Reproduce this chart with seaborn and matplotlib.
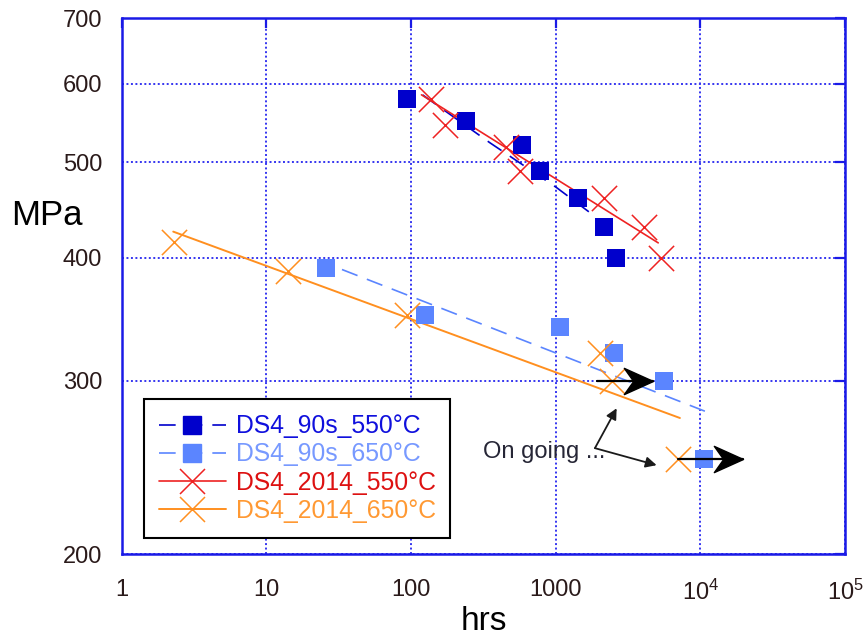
import matplotlib
matplotlib.use("Agg")
import matplotlib.pyplot as plt
from matplotlib.lines import Line2D
from matplotlib.path import Path
from matplotlib.ticker import FixedLocator, FixedFormatter, NullLocator
import seaborn as sns

# Creep rupture tests: time to rupture (hrs) against applied stress (MPa)
hrs_90s_550 = [94, 238, 581, 774, 1423, 2153, 2619]
mpa_90s_550 = [580, 550, 520, 490, 460, 430, 400]

hrs_90s_650 = [26, 125, 1069, 2525, 5595, 10660]
mpa_90s_650 = [390, 350, 340, 320, 300, 250]

hrs_2014_550 = [137, 171, 453, 566, 2153, 4070, 5309]
mpa_2014_550 = [580, 545, 518, 490, 460, 430, 400]

hrs_2014_650 = [2.3, 14.2, 94, 2020, 2433, 7025]
mpa_2014_650 = [415, 388, 350, 320, 300, 250]

# Trend curves through each data set
trend_hrs_90s_550 = [120, 351, 1014, 1807]
trend_mpa_90s_550 = [585, 523, 471, 442]
trend_hrs_90s_650 = [33.3, 10740]
trend_mpa_90s_650 = [389, 279.4]
trend_hrs_2014_550 = [118, 5109]
trend_mpa_2014_550 = [585, 414]
trend_hrs_2014_650 = [2.27, 7215]
trend_mpa_2014_650 = [425, 275]

# Tests still running (arrows pointing to longer times)
ongoing_from_hrs = [1918, 7025]
ongoing_to_hrs = [4720, 19770]
ongoing_mpa = [300, 250]
note_hrs, note_mpa = 314, 254
note_tips_hrs = [2636, 4980]
note_tips_mpa = [281.3, 246.3]
note_from = (1866, 256.3)

series_labels = ["DS4_90s_550°C", "DS4_90s_650°C", "DS4_2014_550°C", "DS4_2014_650°C"]
x_ticks = [1, 10, 100, 1000, 1e4, 1e5]
x_tick_labels = ["1", "10", "100", "1000", r"$\mathregular{10^4}$", r"$\mathregular{10^5}$"]
y_ticks = [200, 300, 400, 500, 600, 700]
y_tick_labels = ["200", "300", "400", "500", "600", "700"]

c_dark = "#0000CC"
c_light = "#5B85FF"
c_red = "#EE2222"
c_orange = "#FF8F1F"
c_axis = "#1A1AE6"
c_grid = "#3535F0"

sns.set_style("white")
plt.rcParams["font.family"] = ["Liberation Sans", "DejaVu Sans"]
plt.rcParams["mathtext.fontset"] = "custom"
plt.rcParams["mathtext.rm"] = "Liberation Sans"

fig = plt.figure(figsize=(8.64, 6.43), dpi=100)
ax = fig.add_axes([0.1409, 0.1379, 0.8372, 0.8341])
ax.set_xscale("log")
ax.set_yscale("log")

dash = (0, (10, 6))

# trend lines
sns.lineplot(x=trend_hrs_90s_550, y=trend_mpa_90s_550, ax=ax, color=c_dark,
             linewidth=1.2, linestyle=dash, sort=False, errorbar=None, zorder=3)
sns.lineplot(x=trend_hrs_90s_650, y=trend_mpa_90s_650, ax=ax, color=c_light,
             linewidth=1.2, linestyle=dash, sort=False, errorbar=None, zorder=3)
sns.lineplot(x=trend_hrs_2014_550, y=trend_mpa_2014_550, ax=ax, color=c_red,
             linewidth=1.2, sort=False, errorbar=None, zorder=3)
sns.lineplot(x=trend_hrs_2014_650, y=trend_mpa_2014_650, ax=ax, color=c_orange,
             linewidth=1.4, sort=False, errorbar=None, zorder=3)

# measured points
sns.scatterplot(x=hrs_90s_550, y=mpa_90s_550, ax=ax, marker="s", s=175,
                color=c_dark, edgecolor=c_dark, linewidth=0, zorder=4)
sns.scatterplot(x=hrs_90s_650, y=mpa_90s_650, ax=ax, marker="s", s=165,
                color=c_light, edgecolor=c_light, linewidth=0, zorder=4)
sns.scatterplot(x=hrs_2014_550, y=mpa_2014_550, ax=ax, marker="x", s=330,
                color=c_red, linewidth=1.1, zorder=5)
sns.scatterplot(x=hrs_2014_650, y=mpa_2014_650, ax=ax, marker="x", s=330,
                color=c_orange, linewidth=1.1, zorder=5)

# arrows for tests still running
head = Path([(0, 0), (-1, 0.45), (-0.68, 0), (-1, -0.45), (0, 0)],
            [Path.MOVETO, Path.LINETO, Path.LINETO, Path.LINETO, Path.CLOSEPOLY])
for h0, h1, m in zip(ongoing_from_hrs, ongoing_to_hrs, ongoing_mpa):
    ax.plot([h0, h1], [m, m], color="black", linewidth=1.6, zorder=6)
    ax.plot([h1], [m], marker=head, markersize=42, color="black",
            linestyle="none", zorder=6)

ax.text(note_hrs, note_mpa, "On going ...", fontsize=17, color="#262636",
        ha="left", va="center", zorder=6)
for th, tm in zip(note_tips_hrs, note_tips_mpa):
    ax.annotate("", xy=(th, tm), xytext=note_from,
                arrowprops=dict(arrowstyle="-|>", color="#1a1a1a", lw=1.3,
                                mutation_scale=16, shrinkA=0, shrinkB=0),
                zorder=6)

# axes
ax.set_xlim(1, 1e5)
ax.set_ylim(200, 700)
ax.xaxis.set_major_locator(FixedLocator(x_ticks))
ax.xaxis.set_major_formatter(FixedFormatter(x_tick_labels))
ax.xaxis.set_minor_locator(NullLocator())
ax.yaxis.set_major_locator(FixedLocator(y_ticks))
ax.yaxis.set_major_formatter(FixedFormatter(y_tick_labels))
ax.yaxis.set_minor_locator(NullLocator())

ax.grid(True, which="major", color=c_grid, linestyle=(0, (1, 1.3)), linewidth=1.4)
ax.set_axisbelow(True)
for sp in ax.spines.values():
    sp.set_color(c_axis)
    sp.set_linewidth(1.8)
ax.tick_params(axis="both", which="major", direction="in", length=7, width=1.6,
               color=c_axis, top=True, right=True, labelsize=17, labelcolor="#2a1a1a")
ax.tick_params(axis="x", pad=18)
ax.tick_params(axis="y", pad=14)

ax.set_xlabel("hrs", fontsize=24, labelpad=1, color="black")
ax.set_ylabel("MPa", fontsize=25, rotation=0, color="black", ha="center", va="center")
ax.yaxis.set_label_coords(-0.103, 0.632)

handles = [
    Line2D([], [], color=c_dark, marker="s", markersize=13, linestyle=dash, linewidth=1.2),
    Line2D([], [], color=c_light, marker="s", markersize=13, linestyle=dash, linewidth=1.2),
    Line2D([], [], color=c_red, marker="x", markersize=18, markeredgewidth=1.1, linewidth=1.2),
    Line2D([], [], color=c_orange, marker="x", markersize=18, markeredgewidth=1.1, linewidth=1.4),
]
leg = ax.legend(handles, series_labels, loc="upper left", bbox_to_anchor=(0.031, 0.289),
                borderaxespad=0, frameon=True, fancybox=False, edgecolor="black",
                framealpha=1, fontsize=17.8, labelcolor=["#1010DD", "#7799FF", "#DD1111", "#FF9933"],
                handlelength=2.7, handletextpad=0.4, labelspacing=0.17, borderpad=0.6)
leg.get_frame().set_linewidth(1.5)
leg.set_zorder(10)

fig.savefig("out.png", dpi=100)
